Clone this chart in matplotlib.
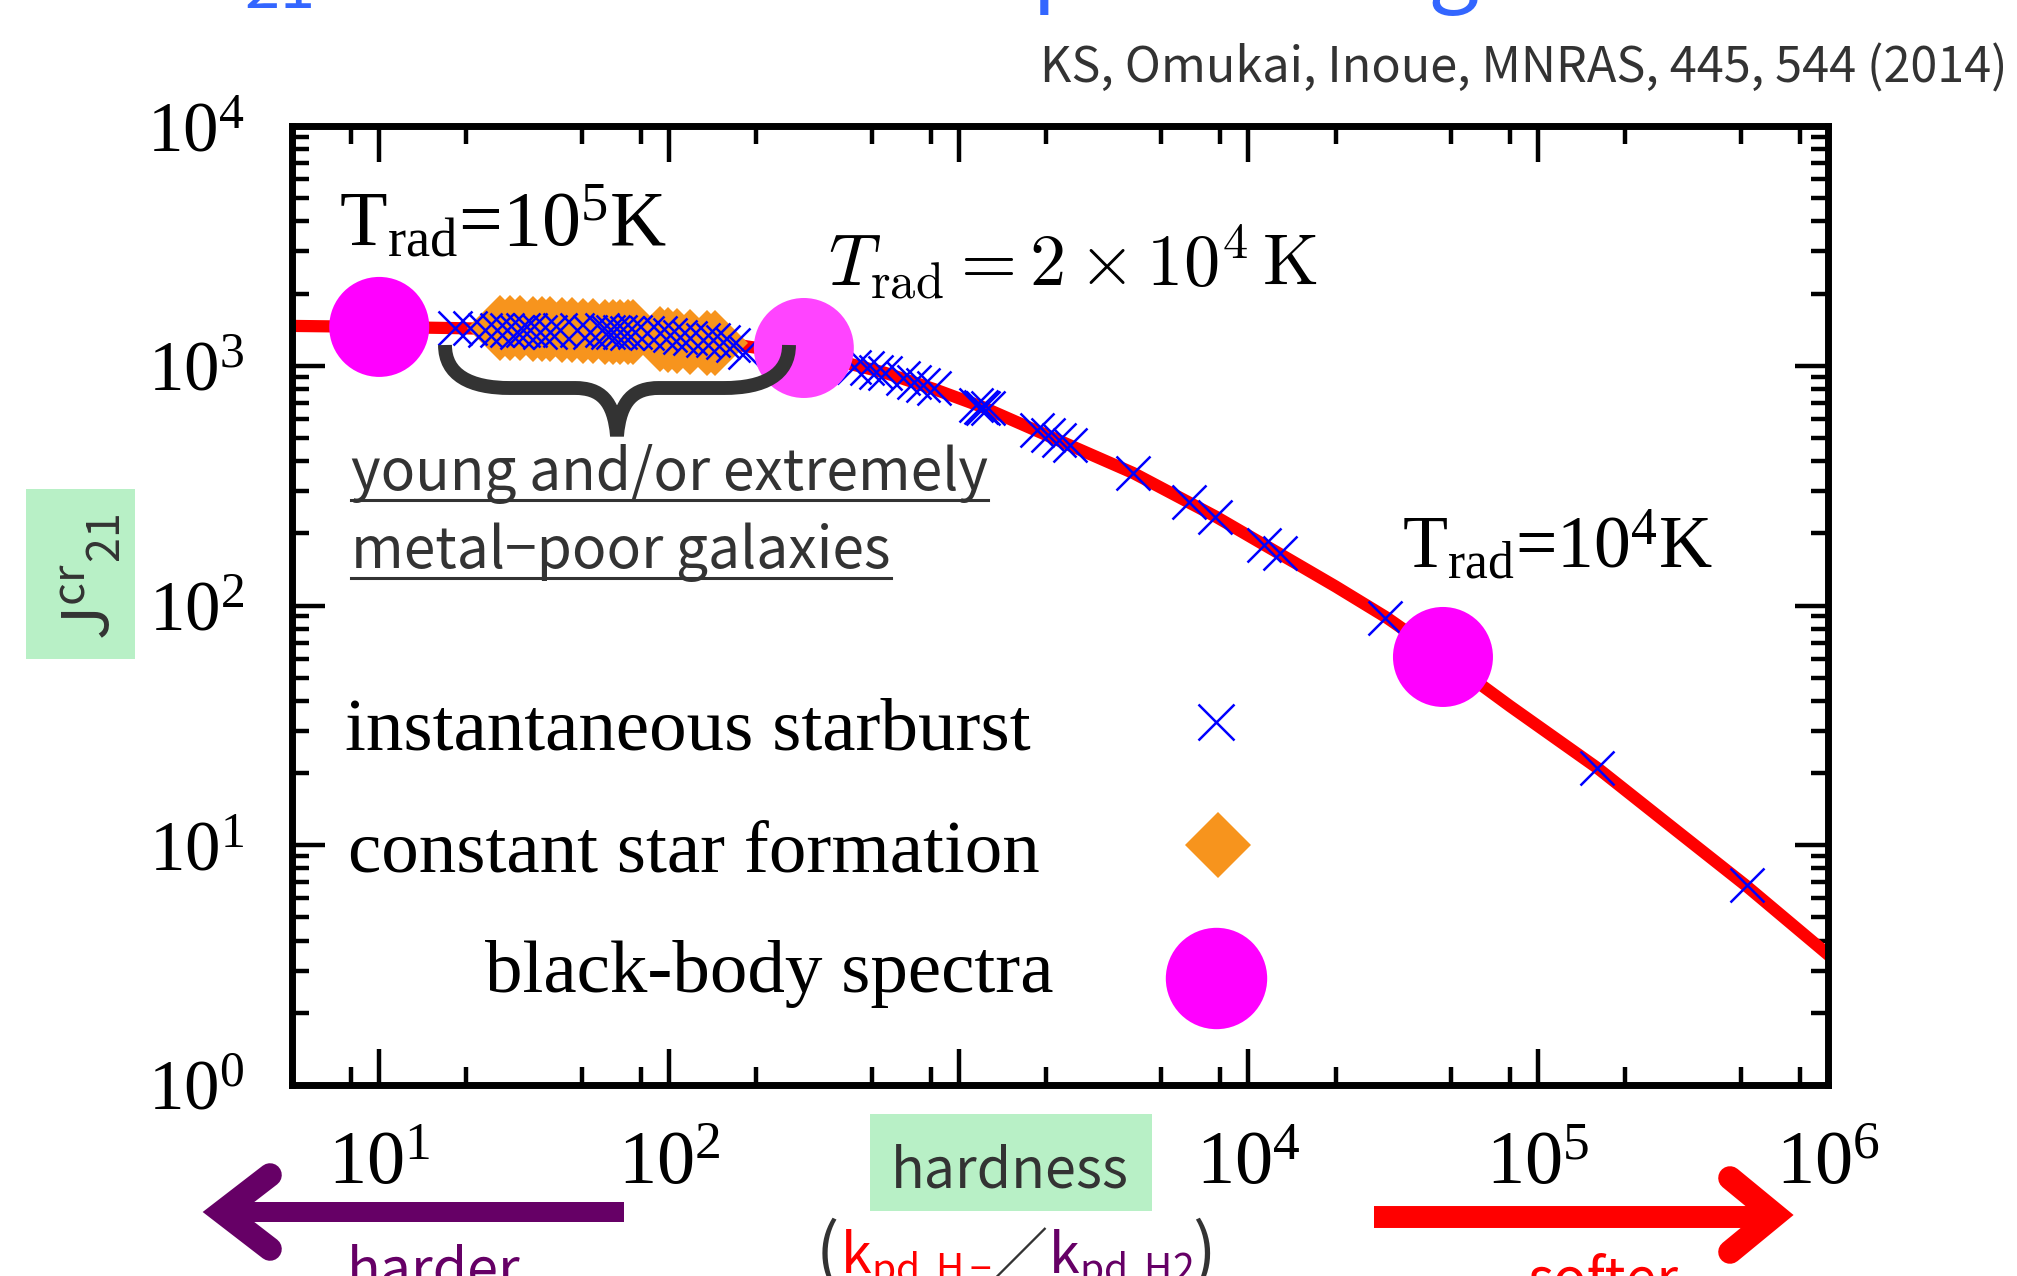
import matplotlib
matplotlib.use('Agg')
import matplotlib.pyplot as plt
import numpy as np
from matplotlib.lines import Line2D
from matplotlib.patches import Rectangle, PathPatch
from matplotlib.path import Path
from matplotlib.transforms import Affine2D
from matplotlib.ticker import FixedLocator, FixedFormatter, LogLocator, NullFormatter

plt.rcParams['font.family'] = 'Liberation Serif'
plt.rcParams['mathtext.fontset'] = 'custom'
plt.rcParams['mathtext.rm'] = 'Liberation Serif'
plt.rcParams['mathtext.it'] = 'Liberation Serif:italic'
plt.rcParams['mathtext.sf'] = 'Noto Sans CJK JP'

# critical intensity J21^cr vs hardness k_pd,H- / k_pd,H2
hard_curve = [5, 10, 18, 30, 50, 80, 120, 150, 185, 292, 411, 556, 820, 1200, 2000,
              4000, 7700, 12000, 20000, 30000, 46900, 80000, 1.6e5, 3e5, 5.2e5, 1e6]
J_curve = [1466, 1452, 1436, 1418, 1400, 1375, 1315, 1265, 1205, 1110, 1026, 935, 800,
           675, 515, 357, 235, 172, 120, 89, 61, 38, 21, 11.5, 6.8, 3.5]

# instantaneous starburst models
isb_hard = [18.3, 20.6, 23.2, 25.5, 27.6, 29.9, 31.3, 33.1, 35.9, 38.8, 42.0, 48.1,
            53.3, 58.7, 61.5, 64.1, 67.7, 71.6, 76.3, 84.0, 93.1, 101, 109, 118, 131,
            142, 154, 166, 183,
            434, 483, 518, 556, 641, 700, 752, 820, 1150, 1191, 1213, 1257, 1857, 2028,
            2218, 2421, 3981, 6209, 7674, 11324, 12823, 29512, 1.59e5, 5.25e5]
isb_J = [1436, 1436, 1410, 1410, 1410, 1386, 1410, 1410, 1386, 1386, 1410, 1410,
         1386, 1410, 1386, 1386, 1386, 1371, 1386, 1371, 1371, 1343, 1318, 1306, 1280,
         1280, 1256, 1221, 1141,
         991, 976, 944, 929, 887, 858, 831, 805, 686, 675, 664, 664, 540, 514,
         490, 467, 356, 271, 235, 179, 165, 88.3, 21.0, 6.83]

# constant star formation models
csf_hard = [26.1, 28.3, 30.6, 34.0, 36.5, 38.8, 42.7, 46.3, 50.5, 54.7, 60.1, 64.1,
            67.7, 72.2, 75.1, 93.1, 99.2, 107, 118, 135, 144]
csf_J = [1437, 1437, 1437, 1430, 1420, 1420, 1415, 1410, 1400, 1390, 1383, 1383,
         1383, 1383, 1383, 1290, 1280, 1270, 1260, 1250, 1244]

# black-body spectra: T_rad = 1e5, 2e4, 1e4 K
bb_hard = [10, 292, 46900]
bb_J = [1452, 1186, 61]
bb_colors = ['#ff00ff', '#ff44ff', '#ff00ff']

x_ticks = [10, 1e2, 1e3, 1e4, 1e5, 1e6]
x_labels = ['$10^1$', '$10^2$', '', '$10^4$', '$10^5$', '$10^6$']
y_ticks = [1, 10, 1e2, 1e3, 1e4]
y_labels = ['$10^0$', '$10^1$', '$10^2$', '$10^3$', '$10^4$']

W, H = 2017, 1276
fig = plt.figure(figsize=(W / 100, H / 100), dpi=100)
ax = fig.add_axes([292 / W, 1 - 1085 / H, (1828 - 292) / W, (1085 - 126) / H])
# pixel coordinates measured from the top-left corner
pix = Affine2D().scale(1 / W, -1 / H).translate(0, 1) + fig.transFigure

ax.plot(hard_curve, J_curve, color='red', lw=8.8, zorder=2)
ax.plot(csf_hard, csf_J, ls='none', marker='D', ms=34, color='#f7941d', mew=0, zorder=3)
ax.plot(isb_hard, isb_J, ls='none', marker='x', ms=24, mew=1.8, color='blue', zorder=4)
ax.scatter(bb_hard, bb_J, s=72 ** 2, c=bb_colors, linewidths=0, zorder=5)

ax.set_xscale('log')
ax.set_yscale('log')
ax.set_xlim(5, 1e6)
ax.set_ylim(1, 1e4)
ax.xaxis.set_major_locator(FixedLocator(x_ticks))
ax.xaxis.set_major_formatter(FixedFormatter(x_labels))
ax.xaxis.set_minor_locator(LogLocator(base=10, subs=(2, 5, 8), numticks=20))
ax.xaxis.set_minor_formatter(NullFormatter())
ax.yaxis.set_major_locator(FixedLocator(y_ticks))
ax.yaxis.set_major_formatter(FixedFormatter(y_labels))
ax.yaxis.set_minor_locator(LogLocator(base=10, subs=np.arange(2, 10), numticks=20))
ax.yaxis.set_minor_formatter(NullFormatter())

ax.tick_params(which='both', direction='in', top=True, right=True, width=3.2)
ax.tick_params(axis='x', which='major', length=26, pad=33, labelsize=55)
ax.tick_params(axis='x', which='minor', length=13)
ax.tick_params(axis='y', which='major', length=24, pad=34, labelsize=51)
ax.tick_params(axis='y', which='minor', length=12)
for sp in ax.spines.values():
    sp.set_linewidth(5)

sans = 'Noto Sans CJK JP'
gray = '#333333'

# title line (runs off the top edge)
fig.text(195, -6, r'$\mathsf{J_{21}}$ for the realistic spectra of galaxies', transform=pix,
         family=sans, fontsize=65, color='#3366ff', va='baseline')
fig.text(2008, 83, 'KS, Omukai, Inoue, MNRAS, 445, 544 (2014)', transform=pix,
         family=sans, fontsize=35, color=gray, ha='right', va='baseline')

# temperature labels
fig.text(339, 245, r'T$_{\rm rad}$=10$^5$K', transform=pix, fontsize=56, va='baseline')
fig.text(828, 286, r'$T_{\rm rad} = 2\times10^{4}\,{\rm K}$', transform=pix,
         fontsize=52, va='baseline', math_fontfamily='cm')
fig.text(1402, 568, r'T$_{\rm rad}$=10$^4$K', transform=pix, fontsize=53, va='baseline')

# brace over the galaxy models
brace = Path([(445, 345), (445, 375), (470, 388), (510, 388), (575, 388),
              (600, 388), (614, 400), (617, 436), (620, 400), (634, 388), (659, 388),
              (724, 388), (764, 388), (789, 375), (789, 345)],
             [Path.MOVETO, Path.CURVE4, Path.CURVE4, Path.CURVE4, Path.LINETO,
              Path.CURVE4, Path.CURVE4, Path.CURVE4, Path.CURVE4, Path.CURVE4, Path.CURVE4,
              Path.LINETO, Path.CURVE4, Path.CURVE4, Path.CURVE4])
fig.add_artist(PathPatch(brace, fill=False, lw=10, edgecolor=gray, capstyle='butt',
                         joinstyle='bevel', transform=pix))

gal1 = fig.text(351, 490, 'young and/or extremely', transform=pix, family=sans,
                fontsize=41, color=gray, va='baseline')
gal2 = fig.text(351, 568, 'metal\u2212poor galaxies', transform=pix, family=sans,
                fontsize=41, color=gray, va='baseline')

# key
fig.text(345, 749, 'instantaneous starburst', transform=pix, fontsize=54, va='baseline')
fig.text(348, 871, 'constant star formation', transform=pix, fontsize=54, va='baseline')
fig.text(485, 992, 'black-body spectra', transform=pix, fontsize=54, va='baseline')
fig.add_artist(Line2D([1216], [722], marker='x', ms=26, mew=1.8, color='blue', transform=pix))
fig.add_artist(Line2D([1218], [845], marker='D', ms=34, mew=0, color='#f7941d', transform=pix))
fig.add_artist(Line2D([1216], [978], marker='o', ms=73, mew=0, color='#ff00ff', transform=pix))

# y label in a green box
fig.add_artist(Rectangle((26, 489), 109, 170, color='#b8f0c6', lw=0, transform=pix))
fig.text(92, 577, r'$\mathsf{J^{cr}{}_{21}}$', transform=pix, rotation=90, fontsize=46,
         color=gray, ha='center', va='center')

# x label in a green box
fig.add_artist(Rectangle((870, 1114), 282, 97, color='#b8f0c6', lw=0, transform=pix))
fig.text(1010, 1187, 'hardness', transform=pix, family=sans, fontsize=40, color=gray,
         ha='center', va='baseline')
fig.text(816, 1275, '(', transform=pix, family=sans, fontsize=50, color=gray, va='baseline')
fig.text(840, 1273, r'$\mathsf{k_{pd,H-}}$', transform=pix, fontsize=40, color='red',
         va='baseline')
fig.text(993, 1273, '\uff0f', transform=pix, family=sans, fontsize=39, color=gray,
         va='baseline')
fig.text(1048, 1273, r'$\mathsf{k_{pd,H2}}$', transform=pix, fontsize=40,
         color='#660066', va='baseline')
fig.text(1192, 1275, ')', transform=pix, family=sans, fontsize=50, color=gray,
         va='baseline')

# harder / softer arrows
purple = '#660066'
fig.add_artist(Line2D([624, 222], [1212, 1212], lw=14.4, color=purple,
                      solid_capstyle='butt', transform=pix))
fig.add_artist(Line2D([270, 222, 270], [1175, 1212, 1249], lw=17, color=purple,
                      solid_capstyle='round', solid_joinstyle='miter', transform=pix))
fig.text(347, 1287, 'harder', transform=pix, family=sans, fontsize=40, color=purple,
         va='baseline')
fig.add_artist(Line2D([1374, 1775], [1217, 1217], lw=15.8, color='red',
                      solid_capstyle='butt', transform=pix))
fig.add_artist(Line2D([1730, 1775, 1730], [1178, 1215, 1252], lw=17, color='red',
                      solid_capstyle='round', solid_joinstyle='miter', transform=pix))
fig.text(1527, 1297, 'softer', transform=pix, family=sans, fontsize=40, color='red',
         va='baseline')

# underline the galaxy caption
fig.canvas.draw()
renderer = fig.canvas.get_renderer()
for t, y in ((gal1, 500), (gal2, 578)):
    bb = t.get_window_extent(renderer)
    fig.add_artist(Line2D([bb.x0, bb.x1], [y, y], lw=2.2, color=gray, transform=pix))

fig.savefig('out.png', dpi=100)
